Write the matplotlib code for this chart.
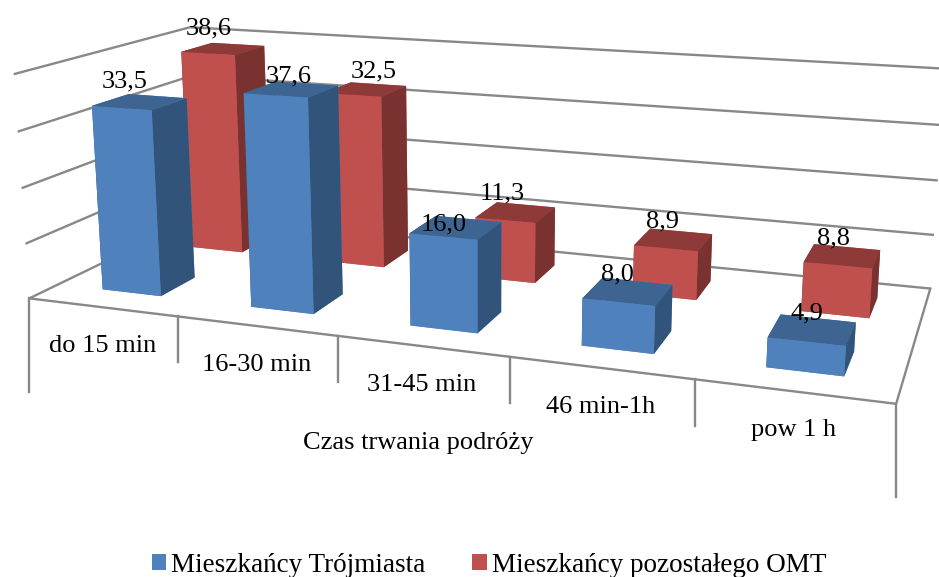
import numpy as np
import matplotlib
matplotlib.use('Agg')
import matplotlib.pyplot as plt
from matplotlib.lines import Line2D
from matplotlib.patches import Patch
from mpl_toolkits.mplot3d import proj3d

plt.rcParams['font.family'] = ['Liberation Serif', 'DejaVu Serif']

categories = ['do 15 min', '16-30 min', '31-45 min', '46 min-1h', 'pow 1 h']
trojmiasto = [33.5, 37.6, 16.0, 8.0, 4.9]
omt = [38.6, 32.5, 11.3, 8.9, 8.8]
series_names = ['Mieszkańcy Trójmiasta', 'Mieszkańcy pozostałego OMT']
axis_title = 'Czas trwania podróży'
z_ticks = [0, 10, 20, 30, 40]

GRAY = '#888888'
LW = 1.7
FS = 19
# front, top, side
BLUE = ['#4F81BD', '#3E6491', '#32537A']
RED = ['#C0504D', '#8E3A38', '#7A3230']

W, H = 939, 577
fig = plt.figure(figsize=(W / 100, H / 100), dpi=100)
# camera was fitted against the reference corners
ax = fig.add_axes([2.22 / W, ((H - W) / 2 + 91.54) / H, 1, W / H], projection='3d')
ax.view_init(elev=13.7178, azim=-70.3308, roll=-0.0216)
ax.set_proj_type('persp', focal_length=0.3177)
ax.set_box_aspect((2.4999, 1, 0.671), zoom=0.9767)
ax.computed_zorder = False
ax.patch.set_alpha(0)

ax.set_xticks([])
ax.set_yticks([])
ax.set_zticks(z_ticks)
ax.set_zticklabels([''] * len(z_ticks))
for a in (ax.xaxis, ax.yaxis, ax.zaxis):
    a.line.set_color('none')
    a.set_pane_color((1, 1, 1, 0))
    a.pane.set_edgecolor('none')
    a._axinfo['tick']['inward_factor'] = 0
    a._axinfo['tick']['outward_factor'] = 0
    a._axinfo['grid'].update(color=GRAY, linewidth=LW)
ax.set_xlim(0, 5)
ax.set_ylim(0, 1)
ax.set_zlim(0, 40)

# floor edges that the grid does not draw
ax.plot([0, 5, 5], [0, 0, 1], [0, 0, 0], color=GRAY, lw=LW, zorder=1)


def box(i, x0, dx, y0, v, cols, order):
    # faces: -z +z -y +y -x +x
    ax.bar3d(i + x0, y0, 0, dx, 0.20, v, color=[cols[0], cols[1], cols[0], cols[0], cols[2], cols[2]],
             shade=False, edgecolor='none', linewidth=0, zorder=order)


for i, v in enumerate(omt):
    box(i, 0.335, 0.385, 0.65, v, RED, 2 + i * 0.1)
for i, v in enumerate(trojmiasto):
    box(i, 0.31, 0.40, 0.15, v, BLUE, 3 + i * 0.1)
ax.set_xlim(0, 5)
ax.set_ylim(0, 1)
ax.set_zlim(0, 40)


def to_px(x, y, z):
    tx, ty, _ = proj3d.proj_transform(x, y, z, ax.get_proj())
    return ax.transData.transform((tx, ty))


ax.apply_aspect()

# value labels, nudged in pixels (x right, y down) the way the original sits them
omt_nudge = [(-12, -9), (11, -7), (-11, -8), (-8, -7), (-6, -6)]
troj_nudge = [(-15, -9), (-3, -2), (-12, 8), (-11, -6), (-5, -5)]
for vals, y0, nudge in ((omt, 0.75, omt_nudge), (trojmiasto, 0.25, troj_nudge)):
    for i, v in enumerate(vals):
        px, py = to_px(i + 0.51, y0, v)
        fig.text((px + nudge[i][0]) / W, (py - nudge[i][1]) / H, f'{v:.1f}'.replace('.', ','),
                 fontsize=FS, ha='center', va='bottom', zorder=10)

# category ticks hang straight down from the front edge
tick_len = [94, 46, 46, 46, 47, 93]
for i, ln in enumerate(tick_len):
    px, py = to_px(i, 0, 0)
    fig.add_artist(Line2D([px / W, px / W], [py / H, (py - ln) / H], color=GRAY, lw=LW))
for i, name in enumerate(categories):
    px, py = to_px(i + 0.5, 0, 0)
    fig.text(px / W, (py - 39) / H, name, fontsize=FS, ha='center', va='center')

fig.text(418 / W, 1 - 443 / H, axis_title, fontsize=FS, ha='center', va='center')

handles = [Patch(facecolor=BLUE[0]), Patch(facecolor=RED[0])]
fig.legend(handles, series_names, ncol=2, loc='center', bbox_to_anchor=(489 / W, 1 - 565 / H), frameon=False,
           fontsize=19.5, handlelength=0.52, handleheight=0.52, handletextpad=0.19, columnspacing=1.74,
           borderpad=0, borderaxespad=0)

fig.savefig('out.png', dpi=100)
